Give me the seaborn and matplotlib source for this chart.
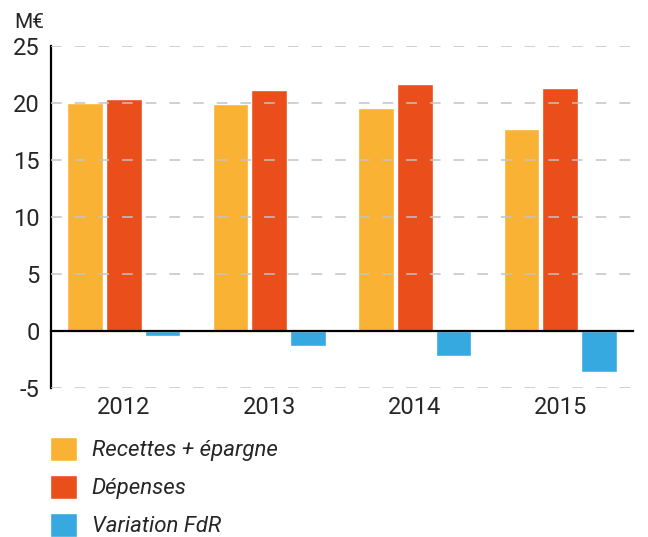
import matplotlib
matplotlib.use("Agg")
import matplotlib.pyplot as plt
import seaborn as sns
import pandas as pd

# data (M€)
years = ["2012", "2013", "2014", "2015"]
recettes = [20.0, 19.95, 19.6, 17.7]
depenses = [20.35, 21.15, 21.7, 21.35]
variation = [-0.45, -1.35, -2.15, -3.6]
series = ["Recettes + épargne", "Dépenses", "Variation FdR"]
colors = ["#F9B233", "#E94E1B", "#36A9E1"]
yticks = [-5, 0, 5, 10, 15, 20, 25]


def main():
    sns.set_style("white")
    plt.rcParams["font.family"] = ["Roboto", "DejaVu Sans"]
    plt.rcParams["axes.unicode_minus"] = False

    rows = []
    for name, vals in zip(series, [recettes, depenses, variation]):
        for y, v in zip(years, vals):
            rows.append({"year": y, "value": v, "serie": name})
    df = pd.DataFrame(rows)

    fig = plt.figure(figsize=(6.48, 5.37), dpi=100)
    ax = fig.add_axes([51 / 648, 1 - 388 / 537, (633 - 51) / 648, (388 - 46) / 537])

    sns.barplot(data=df, x="year", y="value", hue="serie", hue_order=series,
                palette=colors, width=0.8, gap=0.08, saturation=1,
                errorbar=None, ax=ax)
    handles, labels = ax.get_legend_handles_labels()
    ax.get_legend().remove()

    ax.set_xlim(-0.5, 3.5)
    ax.set_ylim(-5, 25)
    ax.set_yticks(yticks)
    ax.set_xlabel("")
    ax.set_ylabel("")

    # dashed grid on top of the bars
    ax.set_axisbelow(False)
    ax.yaxis.grid(True, color="#c4c4c4", linewidth=1.1, linestyle=(0, (7, 8.5)))
    ax.xaxis.grid(False)

    for s in ["top", "right"]:
        ax.spines[s].set_visible(False)
    ax.spines["left"].set_linewidth(1.6)
    ax.spines["left"].set_color("black")
    ax.spines["bottom"].set_position(("data", 0))
    ax.spines["bottom"].set_linewidth(1.6)
    ax.spines["bottom"].set_color("black")
    ax.spines["bottom"].set_zorder(3)

    ax.tick_params(axis="y", direction="in", length=9.5, width=1.6, color="black",
                   labelsize=17, pad=8)
    ax.tick_params(axis="x", which="major", length=0, labelsize=17, pad=47)
    ax.set_xticks([0.5, 1.5, 2.5, 3.5], minor=True)
    ax.tick_params(axis="x", which="minor", direction="in", length=6.5, width=1.6,
                   color="black")

    fig.text(14 / 648, 1 - 28 / 537, "M€", fontsize=15, va="baseline", ha="left")

    leg = fig.legend(handles, labels, loc="upper left",
                     bbox_to_anchor=(50 / 648, 1 - 437 / 537),
                     frameon=False, borderpad=0, borderaxespad=0,
                     handlelength=1.2, handleheight=1.25, handletextpad=0.68,
                     labelspacing=0.62, fontsize=16)
    for t in leg.get_texts():
        t.set_fontstyle("italic")

    fig.savefig("out.png", dpi=100)


if __name__ == "__main__":
    main()
